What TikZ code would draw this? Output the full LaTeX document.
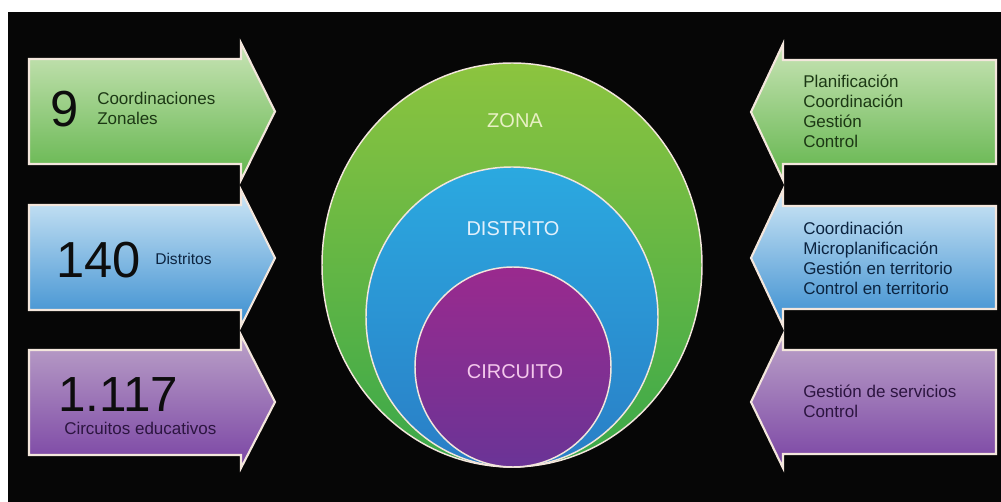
\documentclass[tikz,border=0pt]{standalone}
\usepackage{fontspec}
\setmainfont{Liberation Sans}
\usetikzlibrary{shapes.geometric}
\definecolor{bg}{HTML}{060606}
\definecolor{edge}{HTML}{F3E6DC}
\definecolor{gTop}{HTML}{C9E4B6}
\definecolor{gBot}{HTML}{62B54C}
\definecolor{bTop}{HTML}{CFE7F6}
\definecolor{bBot}{HTML}{3A8ED0}
\definecolor{pTop}{HTML}{BBA2C8}
\definecolor{pBot}{HTML}{7A44A4}
\definecolor{zTop}{HTML}{8CC43F}
\definecolor{zBot}{HTML}{3AA84A}
\definecolor{dTop}{HTML}{2BA9E0}
\definecolor{dBot}{HTML}{2A7EC6}
\definecolor{cTop}{HTML}{9A2A8E}
\definecolor{cBot}{HTML}{6A3496}
\definecolor{gTxt}{HTML}{1C3814}
\definecolor{bTxt}{HTML}{0C2440}
\definecolor{pTxt}{HTML}{2C1540}
\definecolor{zTxt}{HTML}{E8F0C4}
\definecolor{dTxt}{HTML}{E2F0FC}
\definecolor{cTxt}{HTML}{F4C8EC}
\begin{document}
\begin{tikzpicture}[x=0.75pt,y=-0.75pt,
  arrowbox/.style={draw=edge,line width=1.6pt,line join=miter},
  ring/.style={ellipse,draw=edge,line width=1.1pt,inner sep=0pt},
  bignum/.style={anchor=base west,inner sep=0pt,font=\fontsize{38}{40}\selectfont,text=black!95},
  small/.style={anchor=base west,inner sep=0pt,align=left,font=\fontsize{12.75}{15.2}\selectfont},
  ringlabel/.style={inner sep=0pt,font=\fontsize{15}{18}\selectfont}]
\path[use as bounding box,fill=white] (0,0) rectangle (1001,502);
\fill[bg] (8,12) rectangle (1001,502);
% left arrows
\draw[arrowbox,top color=gTop,bottom color=gBot] (29,59) -- (241,59) -- (241,43) -- (275,111.5) -- (241,180) -- (241,164) -- (29,164) -- cycle;
\draw[arrowbox,top color=bTop,bottom color=bBot] (29,205) -- (241,205) -- (241,190) -- (275,258) -- (241,326) -- (241,310) -- (29,310) -- cycle;
\draw[arrowbox,top color=pTop,bottom color=pBot] (29,350) -- (241,350) -- (241,335) -- (275,402) -- (241,468) -- (241,455) -- (29,455) -- cycle;
% right arrows
\draw[arrowbox,top color=gTop,bottom color=gBot] (996,60) -- (783,60) -- (783,44) -- (751,112) -- (783,180) -- (783,164) -- (996,164) -- cycle;
\draw[arrowbox,top color=bTop,bottom color=bBot] (996,206) -- (783,206) -- (783,190) -- (751,258) -- (783,326) -- (783,309) -- (996,309) -- cycle;
\draw[arrowbox,top color=pTop,bottom color=pBot] (996,350) -- (783,350) -- (783,335) -- (751,402) -- (783,468) -- (783,454) -- (996,454) -- cycle;
% rings
\node[ring,top color=zTop,bottom color=zBot,minimum width=285pt,minimum height=303pt] (zona) at (512,265) {};
\node[ring,top color=dTop,bottom color=dBot,minimum width=219pt,minimum height=225pt] (distrito) at (512,317) {};
\node[ring,top color=cTop,bottom color=cBot,minimum width=147pt,minimum height=150pt] (circuito) at (513,367) {};
\node[ringlabel,text=zTxt] (lz) at (515,121) {ZONA};
\node[ringlabel,text=dTxt] (ld) at (513,229) {DISTRITO};
\node[ringlabel,text=cTxt] (lc) at (515,372) {CIRCUITO};
% left texts (base anchor = baseline of last line)
\node[bignum] (n9) at (50,127) {9};
\node[small,text=gTxt] (t9) at (97,125) {Coordinaciones\\Zonales};
\node[bignum] (n140) at (56,278) {140};
\node[small,text=bTxt,font=\fontsize{11.7}{14}\selectfont] (t140) at (155,264.5) {Distritos};
\node[bignum,font=\fontsize{37}{40}\selectfont] (n1117) at (58,412) {1.117};
\node[small,text=pTxt] (t1117) at (64,435) {Circuitos educativos};
% right texts
\node[small,text=gTxt] (r1) at (803,148) {Planificación\\Coordinación\\Gestión\\Control};
\node[small,text=bTxt] (r2) at (803,295) {Coordinación\\Microplanificación\\Gestión en territorio\\Control en territorio};
\node[small,text=pTxt] (r3) at (803,418) {Gestión de servicios\\Control};
\end{tikzpicture}
\end{document}
